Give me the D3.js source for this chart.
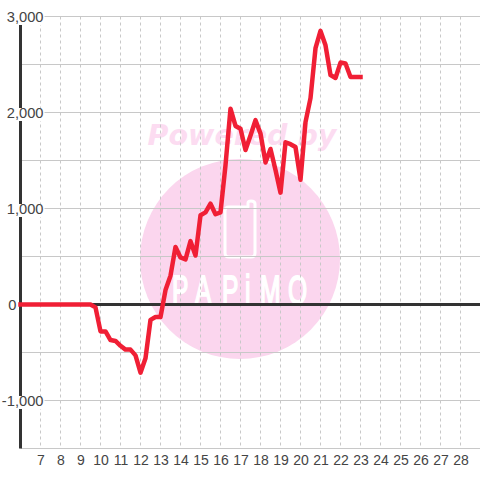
<!DOCTYPE html>
<html><head><meta charset="utf-8">
<script src="https://cdn.jsdelivr.net/npm/d3@7"></script>
<style>html,body{margin:0;padding:0;background:#fff}svg{display:block}</style>
</head><body><svg id="c" width="480" height="480"></svg>
<script>
const hours = d3.range(6, 23.01, 0.25);
const values = [
 0,0,0,0, 0,0,0,0, 0,0,0,0, 0,0,0,-30,
 -280,-280,-370,-380,
 -430,-470,-470,-530,
 -710,-560,-160,-130,
 -130,150,300,600,
 490,470,660,510,
 930,960,1050,940,
 960,1450,2040,1860,
 1830,1610,1760,1920,
 1780,1480,1620,1400,
 1165,1690,1670,1640,
 1300,1900,2150,2670,
 2850,2700,2390,2360,
 2520,2510,2370,2370,2370];
const xTicks = d3.range(7, 29);
const yMajor = [-1000, 0, 1000, 2000, 3000];
const yGrid = [-1500,-1000,-500,0,500,1000,1500,2000,2500,3000];
const watermarkTop = "Powered by";
const watermarkName = "PAPiMO";

const svg = d3.select("#c");
const x = d3.scaleLinear().domain([6, 29]).range([20.5, 480.5]);
const y = d3.scaleLinear().domain([-1500, 3000]).range([448.5, 16.5]);

// watermark
svg.append("circle").attr("cx",240).attr("cy",259).attr("r",100).attr("fill","#fbd6ee");
svg.append("text").attr("x",242).attr("y",145).attr("text-anchor","middle")
  .attr("font-family","DejaVu Sans").attr("font-weight","bold").attr("font-style","italic")
  .attr("font-size",28.5).attr("fill","#fcdcf1").text(watermarkTop);
svg.append("path").attr("fill","none").attr("stroke","#fff").attr("stroke-width",3).attr("stroke-linejoin","round")
  .attr("d","M229 207H248V203Q248 201 251 201Q255 201 255 204V253Q255 257 251 257H229Q225 257 225 253V211Q225 207 229 207Z");
const nameScale = 0.6;
const nameLeft = [172, 195, 222, 245, 260, 288];
svg.append("text").attr("transform",`scale(${nameScale},1)`)
  .attr("x",nameLeft.map(v=>v/nameScale).join(" ")).attr("y",304)
  .attr("font-family","Liberation Sans").attr("font-size",41)
  .attr("fill","#fff").attr("stroke","#fff").attr("stroke-width",1.8).text(watermarkName);

// grid
svg.append("g").selectAll("line").data(xTicks).join("line")
  .attr("x1",d=>x(d)).attr("x2",d=>x(d)).attr("y1",y(3000)).attr("y2",y(-1500))
  .attr("stroke","#c8c8c8").attr("stroke-width",1).attr("stroke-dasharray","3 3");
svg.append("g").selectAll("line").data(yGrid).join("line")
  .attr("x1",x(6)).attr("x2",480).attr("y1",d=>y(d)).attr("y2",d=>y(d))
  .attr("stroke","#c8c8c8").attr("stroke-width",1);

// axis lines
svg.append("line").attr("x1",x(6)).attr("x2",x(6)).attr("y1",y(3000)).attr("y2",y(-1500))
  .attr("stroke","#333").attr("stroke-width",3);
svg.append("line").attr("x1",x(6)).attr("x2",480).attr("y1",y(0)).attr("y2",y(0))
  .attr("stroke","#333").attr("stroke-width",3);

// x axis
const xAxis = d3.axisBottom(x).tickValues(xTicks).tickSize(0).tickPadding(0).tickFormat(d3.format("d"));
const gx = svg.append("g").attr("transform",`translate(0,${y(-1500)+7})`).call(xAxis);
gx.select(".domain").remove();
gx.selectAll("text").attr("font-family","Liberation Sans").attr("font-size",14).attr("fill","#444");

// y axis
const hyphenFormat = d3.formatLocale({decimal:".",thousands:",",grouping:[3],currency:["$",""],minus:"-"}).format(",");
const yAxis = d3.axisLeft(y).tickValues(yMajor).tickSize(0).tickPadding(0).tickFormat(hyphenFormat);
const gy = svg.append("g").attr("transform","translate(43.5,0)").call(yAxis);
gy.select(".domain").remove();
gy.selectAll(".tick text").attr("font-family","Liberation Sans").attr("font-size",14.7).attr("fill","#444").attr("dy","0.34em")
  .filter(d=>d===0).attr("x",-27);
gy.selectAll(".tick").filter(d=>d!==0).each(function(){
  const t = d3.select(this), b = t.select("text").node().getBBox();
  t.insert("rect","text").attr("x",b.x-1).attr("y",-5).attr("width",b.width+2).attr("height",13).attr("fill","#fff");
});

// series
const line = d3.line().x((d,i)=>x(hours[i])).y(d=>y(d));
svg.append("path").datum(values).attr("d",line).attr("fill","none")
  .attr("stroke","#f01f35").attr("stroke-width",4.5).attr("stroke-linecap","square").attr("stroke-linejoin","round");
</script></body></html>
